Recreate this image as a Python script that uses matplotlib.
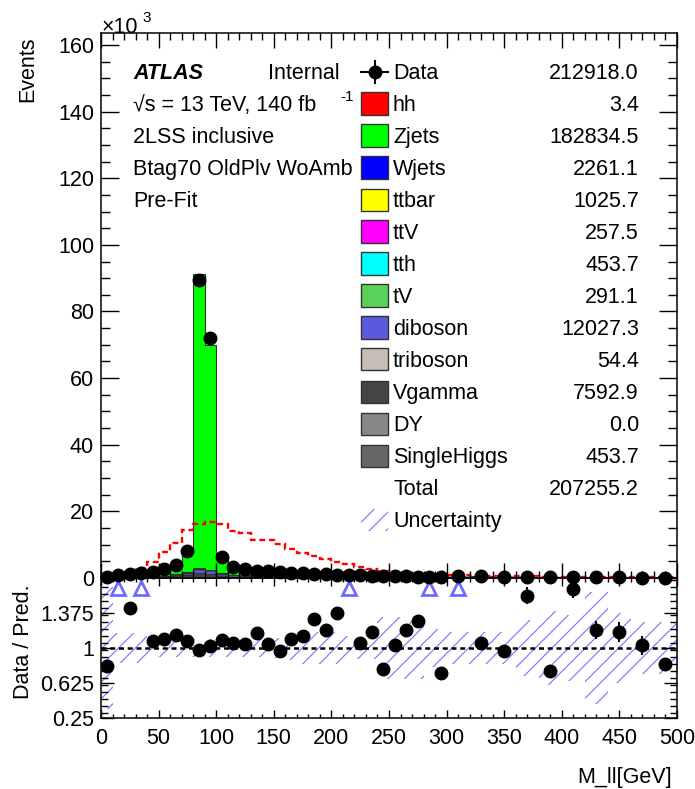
import numpy as np
import matplotlib
matplotlib.use('agg')
import matplotlib.pyplot as plt
from matplotlib.patches import Rectangle
from matplotlib.lines import Line2D
from matplotlib.ticker import MultipleLocator, FixedLocator

plt.rcParams['font.family'] = ['Liberation Sans', 'DejaVu Sans']
plt.rcParams['font.size'] = 15.5
plt.rcParams['hatch.linewidth'] = 0.8

# binning (GeV): 10 GeV up to 300, 20 GeV up to 500
edges = [0, 10, 20, 30, 40, 50, 60, 70, 80, 90, 100, 110, 120, 130, 140, 150,
         160, 170, 180, 190, 200, 210, 220, 230, 240, 250, 260, 270, 280, 290,
         300, 320, 340, 360, 380, 400, 420, 440, 460, 480, 500]

# events per bin
data = [300, 900, 1200, 1400, 1900, 2600, 3900, 8200, 89500, 72000,
        6400, 3400, 2600, 2200, 2000, 1800, 1600, 1400, 1300, 1150,
        1000, 900, 800, 700, 600, 550, 500, 450, 400, 350,
        600, 500, 400, 350, 300, 250, 200, 180, 150, 120]

zjets = [250, 260, 560, 320, 1250, 1670, 2370, 6040, 88300, 67500,
         4550, 2340, 1730, 1200, 1280, 1260, 900, 730, 530, 540,
         335, 120, 430, 300, 510, 290, 200, 150, 35, 310,
         50, 236, 210, 55, 255, 33, 63, 64, 71, 80]
wjets = [40, 60, 70, 80, 90, 100, 110, 120, 150, 140, 110, 100, 90, 80, 70, 65, 60, 55, 50, 45,
         40, 36, 32, 28, 25, 22, 20, 18, 16, 14, 24, 20, 16, 13, 11, 9, 8, 7, 6, 5]
ttbar = [5, 8, 12, 16, 20, 24, 28, 32, 40, 40, 38, 36, 34, 32, 30, 29, 28, 27, 26, 25,
         24, 23, 22, 21, 20, 19, 18, 17, 16, 15, 28, 26, 24, 22, 20, 18, 16, 14, 12, 10]
ttv = [1, 2, 3, 4, 5, 6, 7, 8, 10, 10, 9, 9, 9, 8, 8, 8, 8, 7, 7, 7,
       7, 6, 6, 6, 6, 5, 5, 5, 5, 5, 9, 8, 8, 7, 6, 6, 5, 5, 4, 4]
tth = [2, 3, 5, 7, 9, 11, 13, 15, 18, 18, 17, 16, 16, 15, 15, 14, 14, 13, 13, 12,
       12, 11, 11, 10, 10, 9, 9, 8, 8, 8, 14, 13, 12, 11, 10, 9, 8, 7, 6, 5]
tv = [1, 2, 3, 5, 6, 7, 8, 9, 11, 11, 10, 10, 10, 9, 9, 9, 8, 8, 8, 7,
      7, 7, 7, 6, 6, 6, 6, 5, 5, 5, 10, 9, 8, 8, 7, 6, 6, 5, 5, 4]
diboson = [10, 20, 40, 80, 150, 250, 450, 650, 1300, 1200, 700, 500, 450, 420, 400, 380, 360, 330, 300, 280,
           260, 240, 220, 200, 180, 160, 145, 130, 120, 110, 190, 160, 135, 115, 95, 80, 68, 57, 48, 40]
triboson = [0.2, 0.4, 0.6, 0.8, 1, 1.2, 1.5, 2, 3, 3, 2.5, 2.2, 2, 2, 1.9, 1.8, 1.7, 1.6, 1.5, 1.4,
            1.3, 1.2, 1.1, 1.1, 1, 1, 0.9, 0.9, 0.8, 0.8, 1.4, 1.3, 1.2, 1.1, 1, 0.9, 0.8, 0.7, 0.6, 0.5]
vgamma = [50, 100, 150, 200, 250, 300, 450, 800, 1400, 1100, 450, 250, 180, 140, 120, 100, 90, 80, 70, 60,
          50, 45, 40, 35, 30, 25, 22, 20, 18, 16, 25, 20, 16, 13, 11, 9, 8, 7, 6, 5]
dy = [0] * 40
singlehiggs = [2, 3, 5, 7, 9, 11, 14, 17, 22, 21, 18, 16, 15, 14, 14, 13, 13, 12, 12, 11,
               11, 10, 10, 9, 9, 8, 8, 8, 7, 7, 12, 11, 10, 9, 8, 7, 6, 5, 5, 4]

# hh signal (scaled, drawn as dashed overlay)
hh_scaled = [200, 600, 1500, 2900, 4900, 7900, 10400, 14300, 16300, 16700,
             16300, 14000, 13500, 11400, 11400, 10100, 8600, 7600, 6600, 5600,
             4800, 4100, 3400, 2600, 2200, 1900, 1600, 1300, 1000, 800,
             900, 700, 600, 500, 400, 350, 300, 250, 200, 200]

# ratio panel
ratio = [0.81, 2.0, 1.43, 2.0, 1.07, 1.10, 1.14, 1.07, 0.98, 1.02,
         1.09, 1.05, 1.04, 1.16, 1.04, 0.97, 1.10, 1.13, 1.31, 1.19,
         1.38, 1.9, 1.05, 1.17, 0.77, 1.03, 1.19, 1.29, 1.9, 0.73,
         1.85, 1.05, 0.97, 1.56, 0.75, 1.63, 1.19, 1.17, 1.03, 0.83]
ratio_err = [0.06, 0.04, 0.04, 0.04, 0.03, 0.02, 0.02, 0.01, 0.005, 0.005,
             0.015, 0.02, 0.02, 0.025, 0.025, 0.025, 0.03, 0.03, 0.03, 0.035,
             0.035, 0.04, 0.04, 0.04, 0.045, 0.045, 0.05, 0.05, 0.05, 0.055,
             0.05, 0.05, 0.05, 0.09, 0.05, 0.095, 0.095, 0.11, 0.10, 0.06]
rel_unc = [0.65, 0.16, 0.16, 0.16, 0.11, 0.10, 0.10, 0.10, 0.10, 0.10,
           0.10, 0.10, 0.10, 0.10, 0.10, 0.11, 0.13, 0.17, 0.17, 0.17,
           0.17, 0.13, 0.12, 0.12, 0.33, 0.33, 0.33, 0.33, 0.20, 0.20,
           0.17, 0.17, 0.17, 0.30, 0.40, 0.35, 0.60, 0.37, 0.28, 0.28]

# legend
leg_names = ['hh', 'Zjets', 'Wjets', 'ttbar', 'ttV', 'tth', 'tV', 'diboson',
             'triboson', 'Vgamma', 'DY', 'SingleHiggs']
leg_yields = ['3.4', '182834.5', '2261.1', '1025.7', '257.5', '453.7', '291.1',
              '12027.3', '54.4', '7592.9', '0.0', '453.7']
data_yield = '212918.0'
total_yield = '207255.2'

colors = {'hh': '#ff0000', 'Zjets': '#00ff00', 'Wjets': '#0000ff', 'ttbar': '#ffff00',
          'ttV': '#ff00ff', 'tth': '#00ffff', 'tV': '#5ad25a', 'diboson': '#5a5adc',
          'triboson': '#c6beb4', 'Vgamma': '#444444', 'DY': '#888888',
          'SingleHiggs': '#666666'}
unc_col = '#7373ff'

edges = np.array(edges, dtype=float)
centers = 0.5 * (edges[1:] + edges[:-1])
data = np.array(data, dtype=float)

W, H = 695, 789
fx = lambda x: x / W
fy = lambda y: 1 - y / H

fig = plt.figure(figsize=(W / 100, H / 100), dpi=100)
ax = fig.add_axes([fx(101), fy(578), 576 / W, (578 - 33.3) / H])
rax = fig.add_axes([fx(101), fy(718), 576 / W, 140 / H])
ax.set_zorder(3)

# stack, bottom to top
stack = [('SingleHiggs', singlehiggs), ('DY', dy), ('Vgamma', vgamma), ('triboson', triboson),
         ('diboson', diboson), ('tV', tv), ('tth', tth), ('ttV', ttv), ('ttbar', ttbar),
         ('Wjets', wjets), ('Zjets', zjets)]
bottom = np.zeros(len(centers))
for name, vals in stack:
    top = bottom + np.array(vals, dtype=float) / 1e3
    ax.stairs(top, edges, baseline=bottom, fill=True, facecolor=colors[name],
              edgecolor='#333333', lw=0.8)
    bottom = top

ax.stairs(np.array(hh_scaled) / 1e3, edges, color='red', lw=1.7, ls=(0, (2.5, 1.6)))

ax.errorbar(centers, data / 1e3, yerr=np.sqrt(data) / 1e3, fmt='o', color='k',
            ms=9, lw=1.5, clip_on=False, zorder=5)

ax.set_xlim(0, 500)
ax.set_ylim(0, 163.5)
ax.xaxis.set_major_locator(MultipleLocator(50))
ax.xaxis.set_minor_locator(MultipleLocator(10))
ax.yaxis.set_major_locator(MultipleLocator(20))
ax.yaxis.set_minor_locator(MultipleLocator(5))
ax.tick_params(which='both', direction='in', top=True, right=True, labelbottom=False, width=1)
ax.tick_params(axis='y', which='major', length=13, pad=5)
ax.tick_params(axis='y', which='minor', length=6.5)
ax.tick_params(axis='x', which='major', length=11)
ax.tick_params(axis='x', which='minor', length=5)
for s in ax.spines.values():
    s.set_linewidth(1.1)

# ratio panel
ratio = np.array(ratio)
ratio_err = np.array(ratio_err)
rel_unc = np.array(rel_unc)
rax.stairs(1 + rel_unc, edges, baseline=1 - rel_unc, fill=True, facecolor='none',
           edgecolor=unc_col, hatch='//', lw=0)
rax.axhline(1, color='k', lw=1.8, ls=(0, (2, 1.5)))
inside = ratio <= 1.75
rax.errorbar(centers[inside], ratio[inside], yerr=ratio_err[inside], fmt='o', color='k',
             ms=9, lw=1.5)
rax.plot(centers[~inside], np.full((~inside).sum(), 1.64), ls='none', marker='^',
         ms=10, mfc='none', mec='#6b6bff', mew=2)
rax.set_xlim(0, 500)
rax.set_ylim(0.25, 1.75)
rax.yaxis.set_major_locator(FixedLocator([0.25, 0.625, 1, 1.375]))
rax.set_yticklabels(['0.25', '0.625', '1', '1.375'])
rax.yaxis.set_minor_locator(MultipleLocator(0.075))
rax.xaxis.set_major_locator(MultipleLocator(50))
rax.xaxis.set_minor_locator(MultipleLocator(10))
rax.tick_params(which='both', direction='in', top=True, right=True, width=1)
rax.tick_params(axis='y', which='major', length=9.5, pad=5)
rax.tick_params(axis='y', which='minor', length=5)
rax.tick_params(axis='x', which='major', length=6, pad=7)
rax.tick_params(axis='x', which='minor', length=3)
for s in rax.spines.values():
    s.set_linewidth(1.1)

# axis titles
fig.text(fx(28), fy(36), 'Events', rotation=90, ha='center', va='top')
fig.text(fx(24), fy(642), 'Data / Pred.', rotation=90, ha='center', va='center')
fig.text(fx(672), fy(783), 'M_ll[GeV]', ha='right', va='baseline')
fig.text(fx(102), fy(33), '×10', ha='left', va='baseline')
fig.text(fx(142), fy(22), '3', ha='left', va='baseline', fontsize=11)

# labels
TZ = 12
fig.text(fx(133), fy(79), 'ATLAS', fontweight='bold', style='italic', va='baseline', zorder=TZ)
fig.text(fx(268), fy(79), 'Internal', va='baseline', zorder=TZ)
fig.text(fx(133), fy(111), '√s = 13 TeV, 140 fb', va='baseline', zorder=TZ)
fig.text(fx(340), fy(101), '-1', va='baseline', fontsize=11, zorder=TZ)
fig.text(fx(133), fy(143), '2LSS inclusive', va='baseline', zorder=TZ)
fig.text(fx(133), fy(175), 'Btag70 OldPlv WoAmb', va='baseline', zorder=TZ)
fig.text(fx(133), fy(207), 'Pre-Fit', va='baseline', zorder=TZ)

# legend
row0, dr = 71.5, 32
bx0, bx1, bh = 361, 388, 22
xm = (bx0 + bx1) / 2
fig.add_artist(Line2D([fx(bx0), fx(bx1)], [fy(row0), fy(row0)], color='k', lw=1.5,
                      transform=fig.transFigure, zorder=TZ))
fig.add_artist(Line2D([fx(xm), fx(xm)], [fy(row0 - 11), fy(row0 + 11)], color='k', lw=1.5,
                      transform=fig.transFigure, zorder=TZ))
fig.add_artist(Line2D([fx(xm)], [fy(row0)], marker='o', ms=9, color='k',
                      transform=fig.transFigure, zorder=TZ))
fig.text(fx(393), fy(row0 + 7.5), 'Data', va='baseline', zorder=TZ)
fig.text(fx(639), fy(row0 + 7.5), data_yield, va='baseline', ha='right', zorder=TZ)
for i, (name, yld) in enumerate(zip(leg_names, leg_yields)):
    yc = row0 + dr * (i + 1)
    fig.add_artist(Rectangle((fx(bx0), fy(yc + bh / 2)), (bx1 - bx0) / W, bh / H,
                             facecolor=colors[name], edgecolor='#333333', lw=1,
                             transform=fig.transFigure, zorder=TZ + 1))
    fig.text(fx(393), fy(yc + 7.5), name, va='baseline', zorder=TZ)
    fig.text(fx(639), fy(yc + 7.5), yld, va='baseline', ha='right', zorder=TZ)
yc = row0 + dr * 13
fig.text(fx(393), fy(yc + 7.5), 'Total', va='baseline', zorder=TZ)
fig.text(fx(639), fy(yc + 7.5), total_yield, va='baseline', ha='right', zorder=TZ)
yc = row0 + dr * 14
fig.add_artist(Rectangle((fx(bx0), fy(yc + bh / 2)), (bx1 - bx0) / W, bh / H,
                         facecolor='none', edgecolor=unc_col, hatch='//', lw=0,
                         transform=fig.transFigure, zorder=TZ + 1))
fig.text(fx(393), fy(yc + 7.5), 'Uncertainty', va='baseline', zorder=TZ)

fig.savefig('out.png', dpi=100)
